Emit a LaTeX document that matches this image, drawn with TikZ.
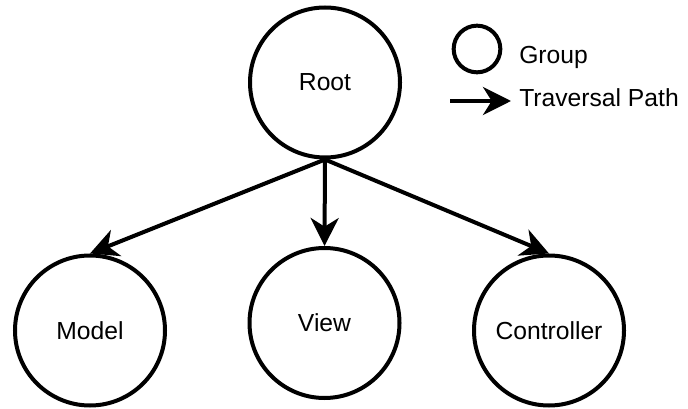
\documentclass[tikz,border=0pt]{standalone}
\usepackage{fontspec}
\setmainfont{Liberation Sans}
\usetikzlibrary{arrows.meta}

\begin{document}
\begin{tikzpicture}[
  x=0.75pt, y=-0.75pt,
  every node/.style={font=\fontsize{18.5pt}{22pt}\selectfont},
  group/.style={circle, draw=black, line width=3pt, fill=white,
                inner sep=0pt, minimum size=112.5pt},
  legendgroup/.style={circle, draw=black, line width=3pt,
                inner sep=0pt, minimum size=35pt},
  travel/.style={line width=3pt,
                -{Stealth[length=21pt, width=21pt, inset=6.5pt]}},
  caption/.style={inner sep=0pt, anchor=base west}
]
  \useasboundingbox (0,0) rectangle (688,409);

  % hierarchy of groups
  \node[group] (root)       at (325,82.5)  {Root};
  \node[group] (model)      at (90,330.5)  {Model};
  \node[group] (view)       at (324.5,323) {View};
  \node[group] (controller) at (549,330.5) {Controller};

  % traversal from the root to each child
  \draw[travel] (root.south) -- (model.north);
  \draw[travel] (root.south) -- (view.north);
  \draw[travel] (root.south) -- (controller.north);

  % legend
  \node[legendgroup] (lgroup) at (477,49) {};
  \node[caption] (lgrouptext) at (519,64) {Group};
  \coordinate (lstart) at (450,101);
  \coordinate (lend) at (511,101);
  \draw[travel] (lstart) -- (lend);
  \node[caption] (lpathtext) at (519,106.5) {Traversal Path};
\end{tikzpicture}
\end{document}
